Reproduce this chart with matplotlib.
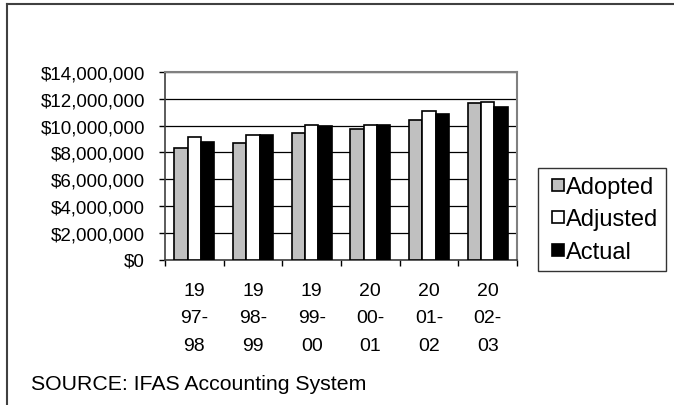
import matplotlib
matplotlib.use("Agg")
import matplotlib.pyplot as plt
from matplotlib.lines import Line2D
from matplotlib.ticker import FuncFormatter, FixedLocator
import numpy as np

plt.rcParams['font.family'] = ['Liberation Sans', 'DejaVu Sans']

years = ["19\n97-\n98", "19\n98-\n99", "19\n99-\n00", "20\n00-\n01", "20\n01-\n02", "20\n02-\n03"]
adopted = [8.31e6, 8.71e6, 9.46e6, 9.71e6, 10.38e6, 11.71e6]
adjusted = [9.14e6, 9.26e6, 10.06e6, 10.08e6, 11.09e6, 11.78e6]
actual = [8.76e6, 9.33e6, 9.99e6, 10.06e6, 10.86e6, 11.39e6]
series_names = ["Adopted", "Adjusted", "Actual"]
series_colors = ["#c0c0c0", "#ffffff", "#000000"]

W, H = 674, 406
fig = plt.figure(figsize=(W / 100, H / 100), dpi=100)

# outer frame: top and left edges only
fig.add_artist(Line2D([7 / W, 1], [1 - 5 / H, 1 - 5 / H], color="#404040", lw=1.5, transform=fig.transFigure))
fig.add_artist(Line2D([7 / W, 7 / W], [0, 1 - 5 / H], color="#404040", lw=1.5, transform=fig.transFigure))

ax = fig.add_axes([165 / W, 1 - 260.5 / H, (517 - 165) / W, (260.5 - 73) / H])

x = np.arange(len(years))
bw = 0.227
for i, (vals, col) in enumerate(zip([adopted, adjusted, actual], series_colors)):
    ax.bar(x + (i - 1) * bw, vals, width=bw, color=col, edgecolor="black", linewidth=1.2, zorder=3)

ax.set_xlim(-0.5, len(years) - 0.5)
ax.set_ylim(0, 14e6)
ax.set_yticks(np.arange(0, 14e6 + 1, 2e6))
ax.yaxis.set_major_formatter(FuncFormatter(lambda v, p: "${:,.0f}".format(v)))
ax.yaxis.grid(True, color="black", lw=0.9, zorder=0)

ax.xaxis.set_major_locator(FixedLocator(np.arange(-0.5, len(years), 1.0)))
ax.xaxis.set_major_formatter(FuncFormatter(lambda v, p: ""))
ax.xaxis.set_minor_locator(FixedLocator(x))
ax.set_xticklabels(years, minor=True)
ax.tick_params(axis="x", which="minor", length=0, pad=16, labelsize=14)
ax.tick_params(axis="x", which="major", length=4.5, width=1, direction="out")
ax.tick_params(axis="y", length=4.5, width=1, direction="out", pad=10, labelsize=13.5)
for lbl in ax.get_xticklabels(minor=True):
    lbl.set_linespacing(1.8)

for s in ["top", "right"]:
    ax.spines[s].set_color("#808080")
    ax.spines[s].set_linewidth(1.5)
for s in ["left", "bottom"]:
    ax.spines[s].set_color("#404040")
    ax.spines[s].set_linewidth(1.2)

handles = [Line2D([], [], marker="s", linestyle="none", markersize=8, markerfacecolor=c,
                  markeredgecolor="black", markeredgewidth=1.2) for c in series_colors]
leg = fig.legend(handles, series_names, loc="upper left", bbox_to_anchor=(538 / W, 1 - 169 / H),
                 fontsize=17, frameon=True, fancybox=False, handlelength=1.0, handletextpad=-0.15,
                 labelspacing=0.45, borderpad=0.33, borderaxespad=0)
leg.get_frame().set_edgecolor("black")
leg.get_frame().set_linewidth(1.0)

fig.text(31.5 / W, 1 - 390 / H, "SOURCE: IFAS Accounting System", fontsize=15.3, va="baseline", ha="left")

fig.savefig("out.png", dpi=100)
